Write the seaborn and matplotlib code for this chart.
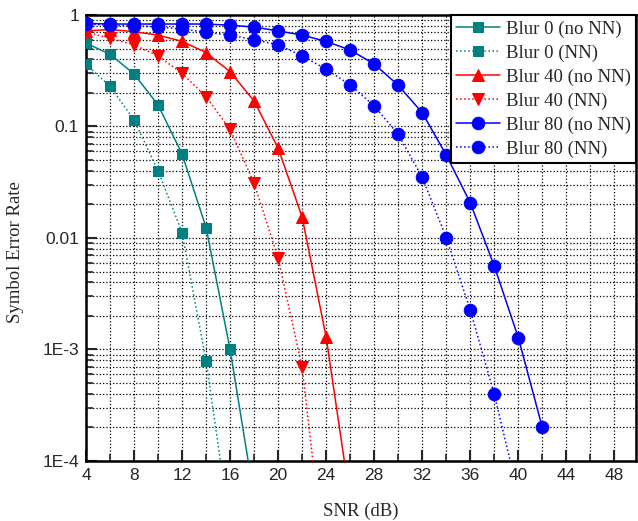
import numpy as np
import pandas as pd
import matplotlib
matplotlib.use("Agg")
import matplotlib.pyplot as plt
from matplotlib.ticker import FixedLocator, FixedFormatter, LogLocator, NullFormatter
import seaborn as sns

# ---- data ----
snr_all = [4, 6, 8, 10, 12, 14, 16, 18, 20, 22, 24, 26, 28, 30, 32, 34, 36, 38, 40, 42]

blur0_no_nn = [0.56, 0.444, 0.296, 0.156, 0.0567, 0.0124, 1.0e-3, 4.7e-5]
blur0_nn = [0.361, 0.229, 0.115, 0.040, 0.0112, 7.9e-4, 2.5e-5]
blur40_no_nn = [0.72, 0.74, 0.71, 0.66, 0.58, 0.46, 0.31, 0.169, 0.064, 0.0154, 1.29e-3, 4.4e-5]
blur40_nn = [0.70, 0.62, 0.54, 0.43, 0.30, 0.185, 0.094, 0.031, 0.0066, 6.9e-4, 9e-6]
blur80_no_nn = [0.84, 0.83, 0.83, 0.83, 0.83, 0.83, 0.81, 0.78, 0.72, 0.66, 0.58, 0.485,
                0.364, 0.234, 0.133, 0.0555, 0.0207, 0.0056, 1.28e-3, 2.0e-4]
blur80_nn = [0.83, 0.81, 0.80, 0.78, 0.75, 0.70, 0.66, 0.60, 0.54, 0.43, 0.326, 0.236,
             0.153, 0.085, 0.035, 0.0101, 2.26e-3, 3.96e-4, 5e-5]

series_labels = ["Blur 0 (no NN)", "Blur 0 (NN)", "Blur 40 (no NN)",
                 "Blur 40 (NN)", "Blur 80 (no NN)", "Blur 80 (NN)"]
x_ticks = [4, 8, 12, 16, 20, 24, 28, 32, 36, 40, 44, 48]
y_ticks = [1e-4, 1e-3, 1e-2, 1e-1, 1]
y_tick_labels = ["1E-4", "1E-3", "0.01", "0.1", "1"]

# ---- styling ----
sns.set_style("white")
plt.rcParams["font.family"] = ["Liberation Sans", "DejaVu Sans"]

fig = plt.figure(figsize=(6.38, 5.21), dpi=100)
ax = fig.add_axes([0.1348, 0.1152, 0.862, 0.856])

teal = "#008080"
styles = [
    (blur0_no_nn, teal, "-", "s", 6.5),
    (blur0_nn, teal, ":", "s", 6.5),
    (blur40_no_nn, "#FF0000", "-", "^", 8.5),
    (blur40_nn, "#FF0000", ":", "v", 8.5),
    (blur80_no_nn, "#0000FF", "-", "o", 9),
    (blur80_nn, "#0000FF", ":", "o", 9),
]

for (vals, col, ls, mk, ms), lab in zip(styles, series_labels):
    df = pd.DataFrame({"snr": snr_all[:len(vals)], "ser": vals})
    sns.lineplot(data=df, x="snr", y="ser", ax=ax, color=col, linestyle=ls,
                 linewidth=1.1, marker=mk, markersize=ms, markeredgecolor=col,
                 markerfacecolor=col, label=lab, zorder=3)

ax.set_yscale("log")
ax.set_xlim(4, 49.8)
ax.set_ylim(1e-4, 1)

ax.xaxis.set_major_locator(FixedLocator(x_ticks))
ax.xaxis.set_minor_locator(FixedLocator(list(range(4, 50, 2))))
ax.yaxis.set_major_locator(FixedLocator(y_ticks))
ax.yaxis.set_major_formatter(FixedFormatter(y_tick_labels))
ax.yaxis.set_minor_locator(LogLocator(base=10, subs=np.arange(2, 10)))
ax.yaxis.set_minor_formatter(NullFormatter())

ax.grid(True, which="both", color="black", linestyle=":", linewidth=0.9)
ax.set_axisbelow(True)

ax.tick_params(axis="both", which="major", direction="in", length=8, width=1.5,
               labelsize=12.5, bottom=True, left=True, top=False, right=False, pad=5)
ax.tick_params(axis="both", which="minor", direction="in", length=5, width=1.2,
               bottom=True, left=True, top=False, right=False)

for sp in ax.spines.values():
    sp.set_color("black")
    sp.set_linewidth(1.8)

ax.set_xlabel("SNR (dB)", fontsize=13.5, family=["Liberation Serif"], labelpad=14)
ax.set_ylabel("Symbol Error Rate", fontsize=13.5, family=["Liberation Serif"])
ax.yaxis.set_label_coords(-0.112, 0.4686)

leg = ax.legend(loc="upper right", frameon=True, fancybox=False, framealpha=1,
                edgecolor="black", prop={"family": "Liberation Serif", "size": 13.5},
                borderaxespad=0, handlelength=2.3, handletextpad=0.33,
                labelspacing=0.36, borderpad=0.28)
leg.get_frame().set_linewidth(1.5)

fig.savefig("out.png", dpi=100)
